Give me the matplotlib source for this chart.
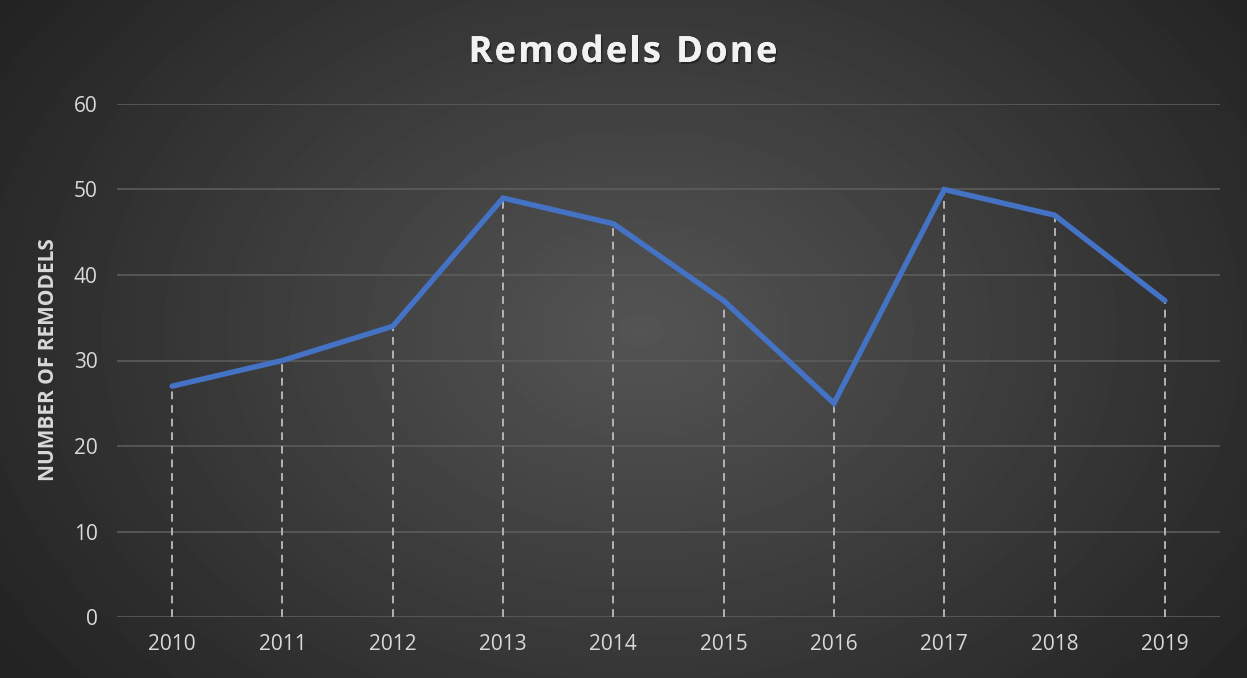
"""
Remodels Done line chart on a dark radial-gradient background.
"""
import numpy as np
import matplotlib
matplotlib.use("Agg")
import matplotlib.pyplot as plt
import matplotlib.patheffects as pe

years = ["2010", "2011", "2012", "2013", "2014",
         "2015", "2016", "2017", "2018", "2019"]
remodels = [27, 30, 34, 49, 46, 37, 25, 50, 47, 37]
y_ticks = [0, 10, 20, 30, 40, 50, 60]
title = "Remodels Done"

plt.rcParams["font.family"] = ["Open Sans", "DejaVu Sans"]

fig = plt.figure(figsize=(12.47, 6.78), dpi=100)

# background gradient
bg = fig.add_axes([0, 0, 1, 1], zorder=-10)
yy, xx = np.mgrid[0:678, 0:1247]
dist = np.sqrt(((xx - 640) / 760.0) ** 2 + ((yy - 330) / 560.0) ** 2)
shade = np.clip(0.33 - 0.19 * dist, 0.14, 0.33)
bg.imshow(shade, cmap="gray", vmin=0, vmax=1, aspect="auto",
          extent=[0, 1, 0, 1])
bg.axis("off")

ax = fig.add_axes([117 / 1247, 1 - 617 / 678, 1103 / 1247, 513 / 678])
ax.patch.set_alpha(0)
x = np.arange(len(years))

for xi, v in zip(x, remodels):
    ax.plot([xi, xi], [0, v], color="#b4b4b4", lw=1.4,
            dashes=(4, 3), zorder=2)
ax.plot(x, remodels, color="#4472c4", lw=3.9, solid_capstyle="round",
        solid_joinstyle="miter", zorder=3)

ax.set_xlim(-0.5, len(years) - 0.5)
ax.set_ylim(0, 60)
ax.set_yticks(y_ticks)
ax.set_xticks(x)
ax.set_xticklabels(years)
ax.grid(axis="y", color="#5c5c5c", lw=1.2)
ax.set_axisbelow(True)
for s in ax.spines.values():
    s.set_visible(False)
ax.tick_params(length=0, colors="#d9d9d9", labelsize=15, pad=12)
ax.tick_params(axis="y", pad=14)

fig.text(49 / 1247, 1 - 360 / 678, "NUMBER OF REMODELS", rotation=90,
         ha="center", va="center", color="#d9d9d9", fontsize=15,
         fontweight="bold")

# title with a little letter spacing, drawn char by char
shadow = [pe.withSimplePatchShadow(offset=(1.2, -1.5),
                                   shadow_rgbFace="black", alpha=0.35),
          pe.Normal()]
renderer = fig.canvas.get_renderer()
spacing = 2.3
widths = []
for ch in title:
    t = fig.text(0, 0, ch if ch != " " else "n", fontsize=26,
                 fontweight="bold")
    w = t.get_window_extent(renderer).width
    if ch == " ":
        w *= 0.45
    widths.append(w)
    t.remove()
total = sum(widths) + spacing * (len(title) - 1)
xpos = 623 - total / 2
for ch, w in zip(title, widths):
    if ch != " ":
        fig.text(xpos / 1247, 1 - 62 / 678, ch, ha="left",
                 va="baseline", color="#f2f2f2", fontsize=26,
                 fontweight="bold", path_effects=shadow)
    xpos += w + spacing

fig.savefig("out.png", dpi=100)
